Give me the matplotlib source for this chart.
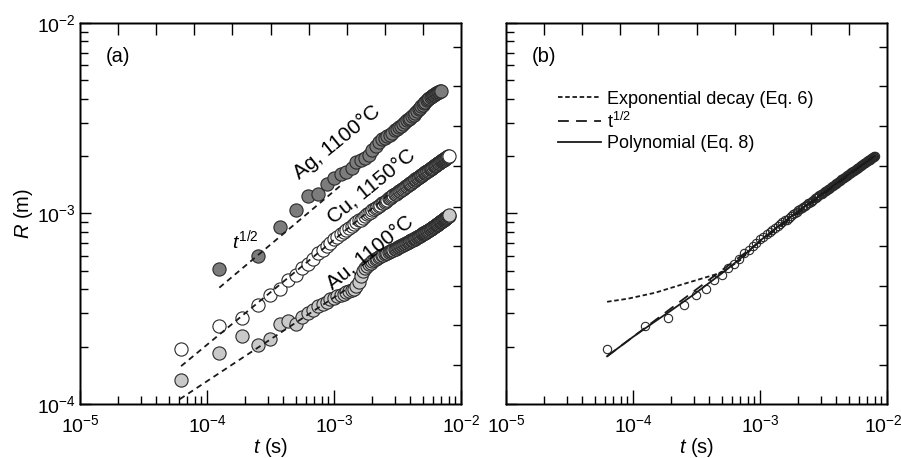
import numpy as np
import matplotlib
matplotlib.use("Agg")
import matplotlib.pyplot as plt
import matplotlib.transforms as mtransforms
from matplotlib.ticker import LogLocator, NullFormatter

plt.rcParams['font.family'] = ['Liberation Sans', 'DejaVu Sans']
plt.rcParams['mathtext.fontset'] = 'custom'
plt.rcParams['mathtext.rm'] = 'Liberation Sans'
plt.rcParams['mathtext.it'] = 'Liberation Sans:italic'
plt.rcParams['mathtext.default'] = 'regular'
plt.rcParams['font.size'] = 13
plt.rcParams['axes.linewidth'] = 1.0

# frame interval of the camera (s)
frame_dt = 6.25e-5

# radius in units of 1e-4 m, one value per frame
ag_frames = np.arange(2, 113, 2)
ag_R = [5.1, 6.0, 8.5, 10.4, 12.4, 12.7, 14.3, 15.3, 16.2, 16.6,
        17.3, 18.6, 19.0, 19.5, 20.3, 21.5, 22.5, 23.8, 24.6, 25.0,
        25.4, 25.8, 26.5, 27.3, 27.9, 28.3, 28.9, 29.6, 30.2, 30.8,
        31.3, 31.7, 32.3, 33.0, 33.7, 34.4, 35.2, 36.0, 36.6, 37.3,
        37.9, 38.6, 39.2, 39.8, 40.5, 40.9, 41.3, 41.7, 42.0, 42.4,
        42.8, 43.0, 43.2, 43.4, 43.7, 44.0]

cu_frames = np.arange(1, 129)
cu_R = [1.95, 2.57, 2.84, 3.32, 3.75, 4.03, 4.45, 4.75, 5.15, 5.45,
        5.75, 6.2, 6.45, 6.75, 7.0, 7.35, 7.55, 7.8, 7.95, 8.2,
        8.4, 8.6, 8.8, 9.0, 9.2, 9.3, 9.5, 9.7, 9.9, 10.0,
        10.2, 10.4, 10.5, 10.7, 10.8, 11.0, 11.1, 11.3, 11.4, 11.5,
        11.7, 11.8, 12.0, 12.1, 12.2, 12.3, 12.5, 12.6, 12.7, 12.8,
        12.9, 13.1, 13.2, 13.3, 13.4, 13.5, 13.6, 13.8, 13.9, 14.0,
        14.1, 14.2, 14.3, 14.4, 14.5, 14.6, 14.8, 14.9, 15.0, 15.1,
        15.2, 15.3, 15.4, 15.5, 15.6, 15.7, 15.8, 15.9, 16.0, 16.1,
        16.2, 16.3, 16.4, 16.5, 16.6, 16.7, 16.7, 16.8, 16.9, 17.0,
        17.1, 17.2, 17.3, 17.4, 17.4, 17.5, 17.6, 17.7, 17.8, 17.9,
        17.9, 18.0, 18.1, 18.2, 18.3, 18.4, 18.4, 18.5, 18.6, 18.7,
        18.8, 18.8, 18.9, 19.0, 19.1, 19.2, 19.2, 19.3, 19.4, 19.5,
        19.5, 19.6, 19.7, 19.8, 19.8, 19.9, 20.0, 20.1]

au_frames = np.arange(1, 130)
au_R = [1.34, 1.85, 2.28, 2.04, 2.2, 2.64, 2.73, 2.64, 2.87, 3.0,
        3.12, 3.25, 3.35, 3.45, 3.55, 3.62, 3.68, 3.74, 3.8, 3.86,
        3.93, 3.98, 4.03, 4.15, 4.35, 4.7, 5.0, 5.15, 5.3, 5.4,
        5.5, 5.6, 5.7, 5.78, 5.85, 5.92, 5.98, 6.03, 6.08, 6.13,
        6.18, 6.22, 6.27, 6.32, 6.37, 6.41, 6.46, 6.5, 6.55, 6.6,
        6.64, 6.69, 6.73, 6.78, 6.82, 6.86, 6.9, 6.94, 6.98, 7.02,
        7.06, 7.1, 7.14, 7.18, 7.22, 7.26, 7.3, 7.34, 7.38, 7.42,
        7.46, 7.5, 7.54, 7.58, 7.62, 7.66, 7.7, 7.74, 7.78, 7.82,
        7.86, 7.9, 7.94, 7.98, 8.02, 8.06, 8.1, 8.14, 8.18, 8.22,
        8.26, 8.3, 8.34, 8.38, 8.42, 8.46, 8.5, 8.54, 8.58, 8.62,
        8.66, 8.7, 8.74, 8.78, 8.82, 8.86, 8.9, 8.94, 8.98, 9.02,
        9.06, 9.1, 9.14, 9.18, 9.22, 9.26, 9.3, 9.34, 9.38, 9.42,
        9.46, 9.5, 9.54, 9.58, 9.62, 9.66, 9.7, 9.74, 9.78]

# t^1/2 guide lines in panel (a): end points (s, 1e-4 m)
ag_fit_t = [1.25e-4, 1.11e-3]
ag_fit_R = [4.08, 13.9]
cu_fit_t = [6.25e-5, 2.75e-3]
cu_fit_R = [1.58, 12.7]
au_fit_t = [6.1e-5, 1.3e-3]
au_fit_R = [1.06, 4.07]

# model curves for Cu in panel (b)
exp_t = [6.25e-5, 9.1e-5, 1.5e-4, 2.4e-4, 3.9e-4, 5.0e-4, 7e-4, 1e-3,
         1.5e-3, 2e-3, 3e-3, 4e-3, 5e-3, 6e-3, 7e-3, 8e-3]
exp_R = [3.44, 3.57, 3.84, 4.23, 4.66, 4.9, 5.7, 7.2,
         8.9, 10.3, 12.5, 14.4, 16.1, 17.5, 18.8, 20.0]
sqrt_t = [6.25e-5, 8e-3]
sqrt_R = [1.78, 20.1]
poly_t = [6.25e-5, 1e-4, 1.5e-4, 2e-4, 3e-4, 5e-4, 7e-4, 1e-3,
          1.5e-3, 2e-3, 3e-3, 4e-3, 5e-3, 6e-3, 7e-3, 8e-3]
poly_R = [1.78, 2.25, 2.72, 3.1, 3.75, 4.85, 5.8, 7.2,
          8.9, 10.3, 12.5, 14.4, 16.1, 17.5, 18.8, 20.0]

decades = [1e-5, 1e-4, 1e-3, 1e-2]
decade_labels = ['$10^{-5}$', '$10^{-4}$', '$10^{-3}$', '$10^{-2}$']
r_decades = [1e-4, 1e-3, 1e-2]
r_labels = ['$10^{-4}$', '$10^{-3}$', '$10^{-2}$']

top_fracs = [0.1, 0.2, 0.3, 0.4, 0.5, 0.6, 0.7, 0.8, 0.9]
right_fracs = [0.103, 0.208, 0.311, 0.416, 0.518, 0.624, 0.729, 0.834, 0.937]

u = 1e-4
edge = '#2a2a2a'
tick_fs = 14

fig = plt.figure(figsize=(9.01, 4.58), dpi=100)
ax1 = fig.add_axes([0.0888, 0.1179, 0.4229, 0.8319])
ax2 = fig.add_axes([0.5616, 0.1179, 0.4229, 0.8319])


def style_axes(ax, ylabels=True):
    ax.set_xscale('log')
    ax.set_yscale('log')
    ax.set_xlim(1e-5, 1e-2)
    ax.set_ylim(1e-4, 1e-2)
    ax.set_xticks(decades, decade_labels)
    ax.set_yticks(r_decades, r_labels if ylabels else [])
    ax.xaxis.set_minor_locator(LogLocator(base=10, subs=np.arange(2, 10), numticks=20))
    ax.yaxis.set_minor_locator(LogLocator(base=10, subs=np.arange(2, 10), numticks=20))
    ax.xaxis.set_minor_formatter(NullFormatter())
    ax.yaxis.set_minor_formatter(NullFormatter())
    ax.set_xlim(1e-5, 1e-2)
    ax.set_ylim(1e-4, 1e-2)
    ax.tick_params(axis='x', which='major', direction='in', length=10, width=1, pad=7, labelsize=tick_fs)
    ax.tick_params(axis='x', which='minor', direction='in', length=5.5, width=1)
    ax.tick_params(axis='y', which='major', direction='in', length=8, width=1, pad=3, labelsize=tick_fs)
    ax.tick_params(axis='y', which='minor', direction='in', length=5.5, width=1)
    ax.set_xlabel('$\\mathit{t}$ (s)', fontsize=14.5, labelpad=0)

    tx = ax.twiny()
    tx.set_xlim(0, 1)
    tx.set_xticks(top_fracs)
    tx.tick_params(axis='x', direction='in', length=8.5, width=1, labeltop=False)
    ty = ax.twinx()
    ty.set_ylim(0, 1)
    ty.set_yticks(right_fracs)
    ty.tick_params(axis='y', direction='in', length=5.5, width=1, labelright=False)


style_axes(ax1)
style_axes(ax2, ylabels=False)

# nudge the right-most x label of panel (b) so it stays inside the figure
last = ax2.xaxis.get_major_ticks()[-1].label1
last.set_transform(last.get_transform() +
                   mtransforms.ScaledTranslation(-4 / 100, 0, fig.dpi_scale_trans))

# panel (a)
ax1.plot(au_frames * frame_dt, np.array(au_R) * u, 'o', ms=9.5, mfc='#c9c9c9',
         mec=edge, mew=0.8, zorder=2)
ax1.plot(cu_frames * frame_dt, np.array(cu_R) * u, 'o', ms=9.5, mfc='white',
         mec=edge, mew=0.8, zorder=2)
ax1.plot(ag_frames * frame_dt, np.array(ag_R) * u, 'o', ms=9.5, mfc='#7c7c7c',
         mec=edge, mew=0.8, zorder=2)
for ft, fr in [(ag_fit_t, ag_fit_R), (cu_fit_t, cu_fit_R), (au_fit_t, au_fit_R)]:
    ax1.plot(ft, np.array(fr) * u, color='#1a1a1a', lw=1.3, ls=(0, (3.2, 2.4)), zorder=3)

ax1.set_ylabel('$\\mathit{R}$ (m)', fontsize=14.5, labelpad=1)
ax1.text(0.068, 0.911, '(a)', transform=ax1.transAxes, fontsize=14.5, va='center')
ax1.text(0.433, 0.429, '$\\mathit{t^{1/2}}$', transform=ax1.transAxes,
         fontsize=14, ha='center', va='center')
ax1.text(0.675, 0.687, 'Ag, 1100°C', transform=ax1.transAxes, fontsize=15,
         rotation=39, rotation_mode='anchor', ha='center', va='center')
ax1.text(0.766, 0.571, 'Cu, 1150°C', transform=ax1.transAxes, fontsize=15,
         rotation=39, rotation_mode='anchor', ha='center', va='center')
ax1.text(0.761, 0.397, 'Au, 1100°C', transform=ax1.transAxes, fontsize=15,
         rotation=39, rotation_mode='anchor', ha='center', va='center')

# panel (b)
ax2.plot(cu_frames * frame_dt, np.array(cu_R) * u, 'o', ms=6, mfc='none',
         mec=edge, mew=0.8, zorder=2)
ax2.plot(exp_t, np.array(exp_R) * u, color='#1a1a1a', lw=1.3, ls=(0, (2.5, 1.5)),
         label='Exponential decay (Eq. 6)', zorder=3)
ax2.plot(sqrt_t, np.array(sqrt_R) * u, color='#1a1a1a', lw=1.3, ls=(0, (6, 4)),
         label='t$^{1/2}$', zorder=3)
ax2.plot(poly_t, np.array(poly_R) * u, color='#1a1a1a', lw=1.3,
         label='Polynomial (Eq. 8)', zorder=3)
ax2.text(0.068, 0.911, '(b)', transform=ax2.transAxes, fontsize=14.5, va='center')
ax2.legend(loc='upper left', bbox_to_anchor=(0.136, 0.822), frameon=False,
           fontsize=13, handlelength=2.4, handletextpad=0.32, labelspacing=0.21,
           borderpad=0, borderaxespad=0)

fig.savefig('out.png', dpi=100)
